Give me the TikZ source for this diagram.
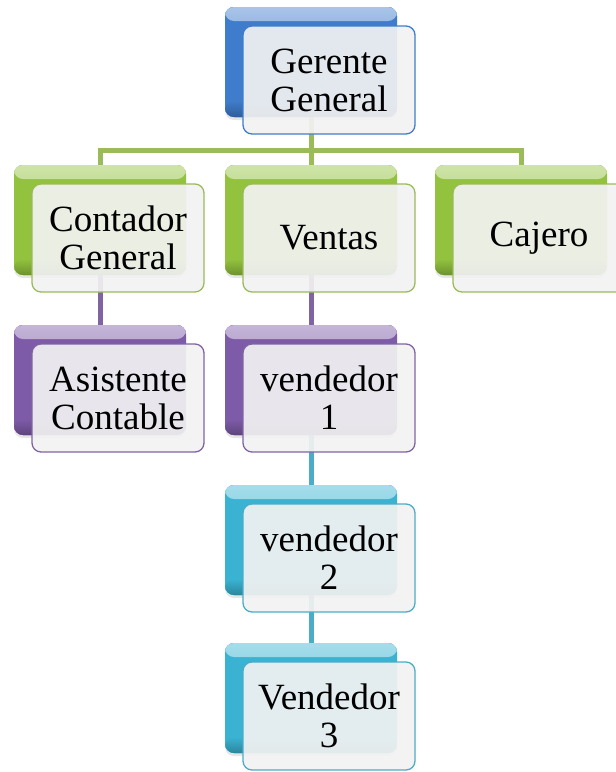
\documentclass[tikz,border=0pt]{standalone}
\usepackage{fontspec}
\setmainfont{Liberation Serif}
\newfontfamily\boxfont{Liberation Serif}
\usepackage{tikz}
\usetikzlibrary{backgrounds}
\usetikzlibrary{shadows}
\usetikzlibrary{calc}

\definecolor{topblue}{HTML}{3F7CCB}
\definecolor{lvlgreen}{HTML}{92C23E}
\definecolor{lvlpurple}{HTML}{7E5BA8}
\definecolor{lvlcyan}{HTML}{3AB3D2}
\definecolor{linegreen}{HTML}{9BBB59}
\definecolor{linepurple}{HTML}{8064A2}
\definecolor{linecyan}{HTML}{4BACC6}

\begin{document}
\begin{tikzpicture}[
    x=1pt, y=-1pt,
    back style/.style={rounded corners=9pt, minimum width=172pt, minimum height=110pt, inner sep=0pt,
        fill=#1,
        path picture={
            \fill[top color=#1!45!white, bottom color=#1]
                (path picture bounding box.north west) rectangle ([yshift=-14pt]path picture bounding box.north east);
            \fill[top color=#1, bottom color=#1!75!black]
                ([yshift=16pt]path picture bounding box.south west) rectangle (path picture bounding box.south east);
        },
        drop shadow={shadow xshift=0pt, shadow yshift=-3pt, opacity=0.2, fill=black!50}},
    front style/.style={rounded corners=9pt, draw=#1, line width=1.3pt, fill=white!95!black, fill opacity=0.92,
        text opacity=1, minimum width=172pt, minimum height=108pt, inner sep=0pt, align=center,
        font=\boxfont\fontsize{37}{38}\selectfont},
    link style/.style={draw=#1, line width=5pt}
]
\useasboundingbox (0,0) rectangle (616,772);

% back boxes
\node[back style=topblue] (gg) at (311,62) {};
\node[back style=lvlgreen] (cg) at (100,220) {};
\node[back style=lvlgreen] (ventas) at (311,220) {};
\node[back style=lvlgreen] (cajero) at (521,220) {};
\node[back style=lvlpurple] (ac) at (100,380) {};
\node[back style=lvlpurple] (v1) at (311,380) {};
\node[back style=lvlcyan] (v2) at (311,540) {};
\node[back style=lvlcyan] (v3) at (311,698) {};

% connectors
\begin{scope}[on background layer]
\draw[link style=linegreen] (gg.south) -- ++(0,33) coordinate (bar);
\draw[link style=linegreen] (bar) -| (cg.north);
\draw[link style=linegreen] (bar) -| (cajero.north);
\draw[link style=linegreen] (bar) -- (ventas.north);
\draw[link style=linepurple] (cg.south) -- (ac.north);
\draw[link style=linepurple] (ventas.south) -- (v1.north);
\draw[link style=linecyan] (v1.south) -- (v2.north);
\draw[link style=linecyan] (v2.south) -- (v3.north);
\end{scope}

% front boxes
\node[front style=topblue] (gg-t) at ([shift={(18,18)}]gg) {Gerente\\General};
\node[front style=linegreen] (cg-t) at ([shift={(18,18)}]cg) {Contador\\General};
\node[front style=linegreen] (ventas-t) at ([shift={(18,18)}]ventas) {Ventas};
\node[front style=linegreen] (cajero-t) at ([shift={(18,18)}]cajero) {Cajero};
\node[front style=linepurple] (ac-t) at ([shift={(18,18)}]ac) {Asistente\\Contable};
\node[front style=linepurple] (v1-t) at ([shift={(18,18)}]v1) {vendedor\\1};
\node[front style=linecyan] (v2-t) at ([shift={(18,18)}]v2) {vendedor\\2};
\node[front style=linecyan] (v3-t) at ([shift={(18,18)}]v3) {Vendedor\\3};
\end{tikzpicture}
\end{document}
